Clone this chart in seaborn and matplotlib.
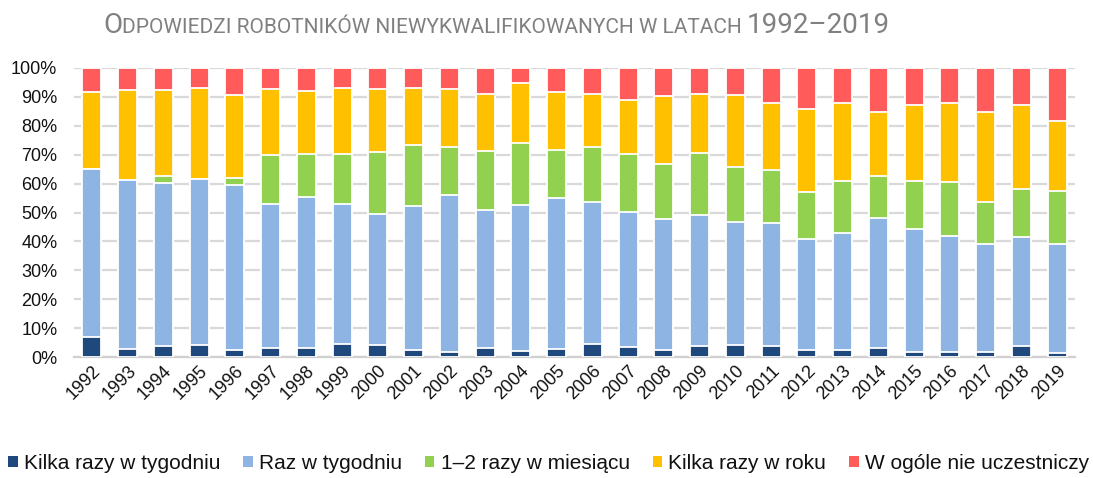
import matplotlib
matplotlib.use("Agg")
import matplotlib.pyplot as plt
from matplotlib.patches import Patch
import numpy as np
import pandas as pd
import seaborn as sns

years = [str(y) for y in range(1992, 2020)]

kilka_tyg = [6.8, 2.9, 3.8, 4.2, 2.3, 3.2, 3.2, 4.4, 4.0, 2.3, 1.8, 3.0, 2.1, 2.7,
             4.5, 3.5, 2.3, 3.8, 4.2, 3.8, 2.4, 2.5, 3.2, 1.6, 1.6, 1.8, 3.7, 1.3]
raz_tyg = [58.4, 58.5, 56.4, 57.4, 57.2, 49.7, 52.3, 48.5, 45.5, 49.8, 54.1, 48.0, 50.4, 52.4,
           49.2, 46.8, 45.6, 45.4, 42.6, 42.7, 38.3, 40.5, 44.9, 42.6, 40.2, 37.4, 37.7, 37.7]
raz_mies = [0.0, 0.0, 2.4, 0.0, 2.4, 16.9, 14.6, 17.5, 21.5, 21.4, 16.9, 20.4, 21.4, 16.6,
            19.1, 19.8, 18.8, 21.3, 19.1, 18.1, 16.3, 18.0, 14.6, 16.6, 18.8, 14.5, 16.7, 18.6]
kilka_rok = [26.5, 31.1, 29.7, 31.6, 28.9, 22.9, 21.9, 22.8, 21.6, 19.7, 20.0, 19.7, 20.8, 20.0,
             18.2, 18.9, 23.5, 20.6, 24.9, 23.2, 28.7, 26.8, 22.2, 26.4, 27.4, 31.0, 29.0, 23.9]
wcale = [8.3, 7.5, 7.7, 6.8, 9.2, 7.3, 8.0, 6.8, 7.4, 6.8, 7.2, 8.9, 5.3, 8.3,
         9.0, 11.0, 9.8, 8.9, 9.2, 12.2, 14.3, 12.2, 15.1, 12.8, 12.0, 15.3, 12.9, 18.5]

labels = ["Kilka razy w tygodniu", "Raz w tygodniu", "1–2 razy w miesiącu",
          "Kilka razy w roku", "W ogóle nie uczestniczy"]
colors = ["#1F497D", "#8EB4E3", "#92D050", "#FFC000", "#FF5B5B"]

df = pd.DataFrame({"year": years, labels[0]: kilka_tyg, labels[1]: raz_tyg,
                   labels[2]: raz_mies, labels[3]: kilka_rok, labels[4]: wcale})
cum = df[labels].cumsum(axis=1)
# scale each year to 100%
cum = cum.div(cum[labels[-1]], axis=0) * 100

sns.set_style("white")
plt.rcParams["font.family"] = ["Liberation Sans", "DejaVu Sans"]

fig = plt.figure(figsize=(10.93, 4.78), dpi=100)
ax = fig.add_axes([74 / 1093, 1 - 357 / 478, (1075 - 74) / 1093, (357 - 68) / 478])

# draw from top segment down so lower segments overlay
for lab, col in zip(labels[::-1], colors[::-1]):
    sns.barplot(x=df["year"], y=cum[lab], color=col, width=0.53,
                edgecolor="white", linewidth=1.3, saturation=1, ax=ax, zorder=3)

ax.set_ylim(0, 100)
ax.set_xlim(-0.5, len(years) - 0.5)
ax.set_yticks(np.arange(0, 101, 10))
ax.set_yticklabels([f"{v}%" for v in range(0, 101, 10)])
ax.yaxis.grid(True, color="#D9D9D9", linewidth=1.6, zorder=0)
ax.set_axisbelow(True)
for s in ["top", "right", "left"]:
    ax.spines[s].set_visible(False)
ax.spines["bottom"].set_color("#D0D0D0")
ax.spines["bottom"].set_linewidth(1.6)
ax.tick_params(axis="y", length=0, pad=12, labelsize=13, labelcolor="#111111")
ax.tick_params(axis="x", length=0, pad=4, labelsize=13, labelcolor="#111111")
plt.setp(ax.get_xticklabels(), rotation=45, ha="right", rotation_mode="anchor")
ax.set_xlabel("")
ax.set_ylabel("")

handles = [Patch(facecolor=c, edgecolor="none", label=l) for l, c in zip(labels, colors)]
fig.legend(handles=handles, loc="center", bbox_to_anchor=(0.502, 0.03), ncol=5,
           frameon=False, fontsize=15, handlelength=0.45, handleheight=0.45,
           handletextpad=0.3, columnspacing=1.1, borderaxespad=0, borderpad=0,
           labelcolor="#111111")

# title with small caps look
title_col = "#808080"
tfont = ["Roboto", "DejaVu Sans"]
fig.canvas.draw()
r = fig.canvas.get_renderer()
x = 103 / 1093
yb = 1 - 33 / 478
parts = [("O", 20), ("DPOWIEDZI ROBOTNIKÓW NIEWYKWALIFIKOWANYCH W LATACH ", 15), ("1992–2019", 20)]
for txt, size in parts:
    t = fig.text(x, yb, txt, fontsize=size, color=title_col, family=tfont, va="baseline")
    bb = t.get_window_extent(renderer=r)
    x = bb.x1 / fig.bbox.width

fig.savefig("out.png", dpi=100)
